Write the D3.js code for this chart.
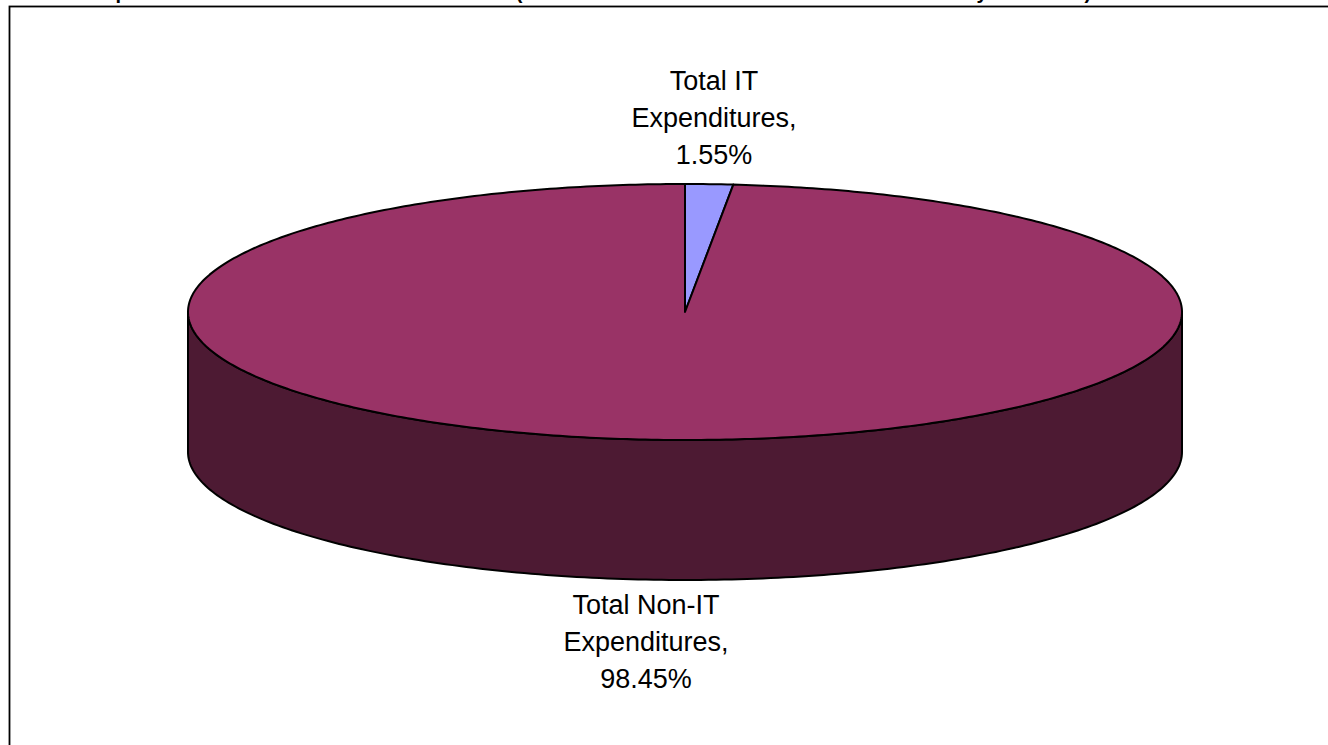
<!DOCTYPE html>
<html>
<head>
<meta charset="utf-8">
<script src="https://cdn.jsdelivr.net/npm/d3@7"></script>
<style>
  html, body { margin: 0; padding: 0; background: #fff; }
  svg { display: block; }
  text { font-family: Arial, "Liberation Sans", sans-serif; fill: #000; }
</style>
</head>
<body>
<svg id="chart" width="1328" height="745"></svg>
<script>
// ---- data ----
const categories = ["Total IT Expenditures", "Total Non-IT Expenditures"];
const values = [1.55, 98.45];
const labelLines = [["Total IT", "Expenditures,", "1.55%"], ["Total Non-IT", "Expenditures,", "98.45%"]];
const topColors = ["#9999FF", "#993366"];
const sideColors = ["#4D4D80", "#4D1A33"];
const titleText = "Comparison of Total IT and Total Non-IT Costs (Share of Total Amounts Shown for Fiscal Year by Subtotals)";

// ---- layout ----
const W = 1328, H = 745;
const cx = 685, cy = 312, rx = 497, ry = 128, depth = 140;

const svg = d3.select("#chart");

// chart border (extends beyond right/bottom edges)
svg.append("rect")
  .attr("x", 9.5).attr("y", 6.5)
  .attr("width", 1500).attr("height", 900)
  .attr("fill", "none").attr("stroke", "#000").attr("stroke-width", 1.8);

// title (cut off at top, only descenders visible)
svg.append("text")
  .attr("x", 71).attr("y", -1)
  .attr("text-anchor", "start")
  .attr("font-size", 20).attr("font-weight", "bold")
  .text(titleText);

// scales: unit circle -> ellipse
const xs = d3.scaleLinear().domain([-1, 1]).range([cx - rx, cx + rx]);
const ys = d3.scaleLinear().domain([-1, 1]).range([cy - ry, cy + ry]);

const pie = d3.pie().sort(null).value(d => d)(values);

const pt = (a, dy = 0) => [xs(Math.sin(a)), ys(-Math.cos(a)) + dy];
const line = d3.line();

function sample(a0, a1, n) {
  const out = [];
  for (let i = 0; i <= n; i++) out.push(a0 + (a1 - a0) * i / n);
  return out;
}

// side walls (front half: angles between PI/2 and 3PI/2)
pie.forEach((s, i) => {
  const a0 = Math.max(s.startAngle, Math.PI / 2);
  const a1 = Math.min(s.endAngle, 3 * Math.PI / 2);
  if (a1 <= a0) return;
  const angs = sample(a0, a1, 200);
  const topPts = angs.map(a => pt(a));
  const botPts = angs.slice().reverse().map(a => pt(a, depth));
  svg.append("path")
    .attr("d", line(topPts.concat(botPts)) + "Z")
    .attr("fill", sideColors[i])
    .attr("stroke", "#000").attr("stroke-width", 2)
    .attr("stroke-linejoin", "round");
});

// top surface
pie.forEach((s, i) => {
  const n = Math.max(4, Math.ceil((s.endAngle - s.startAngle) * 80));
  const pts = [[xs(0), ys(0)]].concat(sample(s.startAngle, s.endAngle, n).map(a => pt(a)));
  svg.append("path")
    .attr("d", line(pts) + "Z")
    .attr("fill", topColors[i])
    .attr("stroke", "#000").attr("stroke-width", 2)
    .attr("stroke-linejoin", "round");
});

// labels
const labelPos = [[714, 90], [646, 614]];
const lineGap = 37;
labelLines.forEach((lines, i) => {
  const t = svg.append("text")
    .attr("text-anchor", "middle")
    .attr("font-size", 27);
  lines.forEach((l, j) => {
    t.append("tspan")
      .attr("x", labelPos[i][0])
      .attr("y", labelPos[i][1] + j * lineGap)
      .text(l);
  });
});
</script>
</body>
</html>
